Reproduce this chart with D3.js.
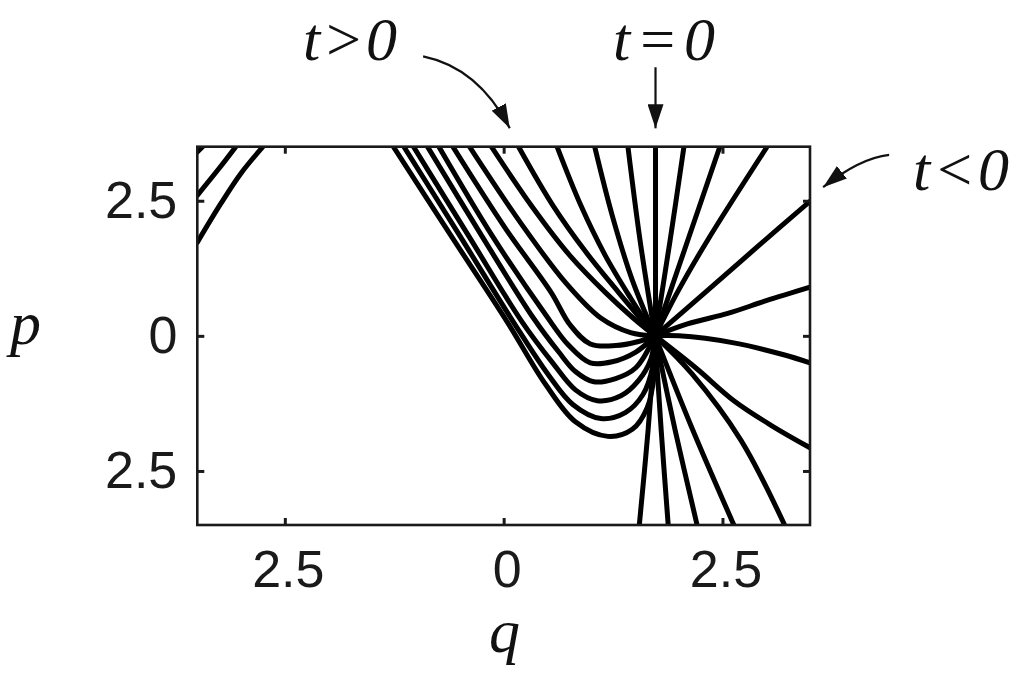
<!DOCTYPE html>
<html>
<head>
<meta charset="utf-8">
<script src="https://cdn.jsdelivr.net/npm/d3@7"></script>
<style>
  body { margin: 0; background: #fff; }
  svg { display: block; }
  .tick text { font-family: "Liberation Sans", Arial, sans-serif; font-size: 52px; fill: #1a1a1a; }
  .tick line { stroke: #1a1a1a; stroke-width: 3; }
  .lbl { font-family: "Liberation Serif", "Times New Roman", serif; font-style: italic; fill: #111; }
</style>
</head>
<body>
<div id="chart"></div>
<script>
// axis ranges and ticks (minus signs are missing in the original labels)
var qDomain = [-3.5, 3.5];
var pDomain = [-3.5, 3.5];
var xTicks = [-2.5, 0, 2.5];
var xTickLabels = ["2.5", "0", "2.5"];
var yTicks = [-2.5, 0, 2.5];
var yTickLabels = ["2.5", "0", "2.5"];

// branches leaving the focus towards the upper right (t<0 side) and the vertical t=0 line
var fanRight = [
  [[1.73, 0], [2.1, 0.22], [2.57, 0.42], [3.0, 0.65], [3.5, 0.9]],
  [[1.73, 0], [2.3, 0.8], [2.9, 1.65], [3.5, 2.49]],
  [[1.73, 0], [2.0, 0.85], [2.33, 1.77], [3.01, 3.5]],
  [[1.73, 0], [2.1, 1.75], [2.47, 3.5]],
  [[1.73, 0], [1.9, 1.75], [2.06, 3.5]],
  [[1.735, 0], [1.735, 3.5]]
];

// branches going down from the focus
var fanDown = [
  [[1.73, 0], [1.65, -1.75], [1.55, -3.5]],
  [[1.73, 0], [1.8, -1.75], [1.88, -3.5]],
  [[1.73, 0], [1.96, -1.75], [2.21, -3.5]],
  [[1.73, 0], [2.15, -1.7], [2.63, -3.5]],
  [[1.73, 0], [2.15, -0.7], [2.71, -1.93], [3.21, -3.5]],
  [[1.73, 0], [2.2, -0.6], [2.63, -1.2], [3.05, -1.65], [3.5, -2.07]],
  [[1.73, 0], [2.0, 0.0], [2.63, -0.13], [3.2, -0.35], [3.5, -0.5]]
];

// branches coming from the top edge into the focus (t>0 side)
var fanLeft = [
  [[1.42, 3.5], [1.56, 1.75], [1.73, 0]],
  [[1.04, 3.5], [1.24, 2.23], [1.47, 1.03], [1.73, 0]],
  [[0.61, 3.5], [0.88, 2.42], [1.16, 1.49], [1.45, 0.7], [1.73, 0]],
  [[0.17, 3.5], [0.56, 2.42], [0.94, 1.55], [1.31, 0.81], [1.73, 0]],
  [[-0.14, 3.5], [0.33, 2.38], [0.76, 1.48], [1.17, 0.79], [1.48, 0.33], [1.73, 0]]
];

// folded branches that dip below p=0 before reaching the focus
var uCurves = [
  [[-1.26, 3.5], [-0.6, 1.85], [0.04, 0.26], [0.48, -0.9], [0.82, -1.59], [1.19, -1.86], [1.47, -1.73], [1.64, -1.33], [1.72, -0.72], [1.73, 0]],
  [[-1.14, 3.5], [-0.5, 1.85], [0.11, 0.26], [0.51, -0.72], [0.79, -1.27], [1.11, -1.53], [1.39, -1.42], [1.59, -1.09], [1.7, -0.59], [1.73, 0]],
  [[-1.03, 3.5], [-0.4, 1.85], [0.21, 0.26], [0.56, -0.5], [0.82, -1.0], [1.07, -1.2], [1.34, -1.11], [1.54, -0.83], [1.68, -0.44], [1.73, 0]],
  [[-0.87, 3.5], [-0.25, 1.85], [0.34, 0.33], [0.63, -0.3], [0.82, -0.66], [1.03, -0.85], [1.28, -0.79], [1.51, -0.59], [1.73, 0]],
  [[-0.74, 3.5], [-0.13, 1.85], [0.48, 0.39], [0.74, -0.17], [0.99, -0.5], [1.24, -0.48], [1.51, -0.3], [1.73, 0]],
  [[-0.58, 3.5], [0.02, 1.99], [0.54, 0.81], [0.76, 0.2], [0.99, -0.15], [1.28, -0.18], [1.53, -0.11], [1.73, 0]],
  [[-0.39, 3.5], [0.19, 2.1], [0.71, 0.98], [1.11, 0.33], [1.45, 0.06], [1.73, 0]]
];

// short pieces in the upper left corner
var cornerCurves = [
  [[-3.06, 3.5], [-3.25, 3.1], [-3.5, 2.6]],
  [[-2.75, 3.5], [-3.0, 3.01], [-3.23, 2.45], [-3.5, 1.73]],
  [[-3.5, 3.4], [-3.44, 3.5]]
];

var W = 1024, H = 685;
var frame = { left: 197.3, right: 810, top: 146.7, bottom: 525 };

var svg = d3.select("#chart").append("svg")
  .attr("width", W)
  .attr("height", H);

var x = d3.scaleLinear().domain(qDomain).range([frame.left, frame.right]);
var y = d3.scaleLinear().domain(pDomain).range([frame.bottom, frame.top]);

svg.append("defs").append("clipPath").attr("id", "plotclip")
  .append("rect")
  .attr("x", frame.left).attr("y", frame.top)
  .attr("width", frame.right - frame.left)
  .attr("height", frame.bottom - frame.top);

var line = d3.line()
  .x(function (d) { return x(d[0]); })
  .y(function (d) { return y(d[1]); })
  .curve(d3.curveCatmullRom.alpha(0.5));

var allCurves = [].concat(fanRight, fanDown, fanLeft, uCurves, cornerCurves);

svg.append("g")
  .attr("clip-path", "url(#plotclip)")
  .selectAll("path")
  .data(allCurves)
  .join("path")
  .attr("d", line)
  .attr("fill", "none")
  .attr("stroke", "#000")
  .attr("stroke-width", 5)
  .attr("stroke-linecap", "round")
  .attr("stroke-linejoin", "round");

// axes, ticks point inwards on all four sides
function fmt(labels, vals) {
  return function (d) { return labels[vals.indexOf(d)]; };
}
svg.append("g")
  .attr("transform", "translate(0," + frame.bottom + ")")
  .call(d3.axisBottom(x).tickValues(xTicks).tickFormat(fmt(xTickLabels, xTicks)).tickSize(-7).tickPadding(25))
  .call(function (g) { g.select(".domain").remove(); })
  .selectAll("text").attr("dx", "3");
svg.append("g")
  .attr("transform", "translate(0," + frame.top + ")")
  .call(d3.axisTop(x).tickValues(xTicks).tickFormat("").tickSize(-7))
  .call(function (g) { g.select(".domain").remove(); });
svg.append("g")
  .attr("transform", "translate(" + frame.left + ",0)")
  .call(d3.axisLeft(y).tickValues(yTicks).tickFormat(fmt(yTickLabels, yTicks)).tickSize(-7).tickPadding(20))
  .call(function (g) { g.select(".domain").remove(); });
svg.append("g")
  .attr("transform", "translate(" + frame.right + ",0)")
  .call(d3.axisRight(y).tickValues(yTicks).tickFormat("").tickSize(-7))
  .call(function (g) { g.select(".domain").remove(); });

svg.append("rect")
  .attr("x", frame.left).attr("y", frame.top)
  .attr("width", frame.right - frame.left)
  .attr("height", frame.bottom - frame.top)
  .attr("fill", "none")
  .attr("stroke", "#1a1a1a")
  .attr("stroke-width", 2.6);

// axis names
svg.append("text").attr("class", "lbl").attr("x", 10).attr("y", 344).attr("font-size", 62).text("p");
svg.append("text").attr("class", "lbl").attr("x", 489).attr("y", 652).attr("font-size", 62).text("q");

// annotations with arrows
svg.append("defs").append("marker")
  .attr("id", "head")
  .attr("viewBox", "0 0 24 16")
  .attr("refX", 24).attr("refY", 8)
  .attr("markerWidth", 24).attr("markerHeight", 16)
  .attr("markerUnits", "userSpaceOnUse")
  .attr("orient", "auto")
  .append("path").attr("d", "M0,0 L24,8 L0,16 Z").attr("fill", "#111");

var notes = [
  { text: "t>0", tx: 303, ty: 60, sp: 2, from: [-0.92, 5.17], ctrl: [-0.29, 4.96], to: [0.07, 3.84] },
  { text: "t=0", tx: 613, ty: 60, sp: 6, from: [1.735, 4.97], ctrl: [1.735, 4.4], to: [1.735, 3.84] },
  { text: "t<0", tx: 913, ty: 190, sp: 3, from: [4.404, 3.35], ctrl: [4.07, 3.29], to: [3.65, 2.75] }
];

notes.forEach(function (n) {
  svg.append("text").attr("class", "lbl")
    .attr("x", n.tx).attr("y", n.ty)
    .attr("font-size", 62)
    .attr("letter-spacing", n.sp)
    .text(n.text);
  var p = d3.path();
  p.moveTo(x(n.from[0]), y(n.from[1]));
  p.quadraticCurveTo(x(n.ctrl[0]), y(n.ctrl[1]), x(n.to[0]), y(n.to[1]));
  svg.append("path")
    .attr("d", p.toString())
    .attr("fill", "none")
    .attr("stroke", "#111")
    .attr("stroke-width", 2.2)
    .attr("marker-end", "url(#head)");
});
</script>
</body>
</html>
